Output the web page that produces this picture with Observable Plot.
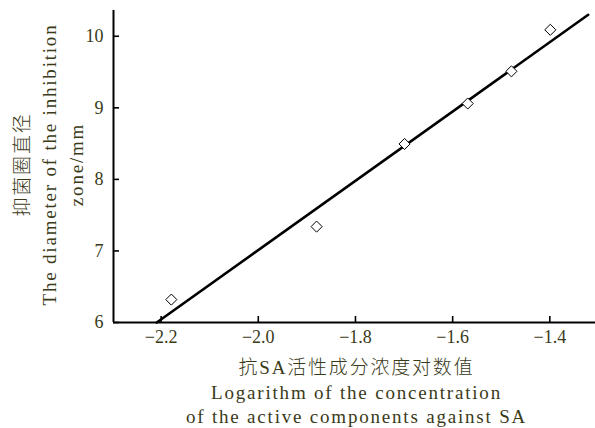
<!DOCTYPE html>
<html>
<head>
<meta charset="utf-8">
<script src="https://cdn.jsdelivr.net/npm/d3@7"></script>
<script src="https://cdn.jsdelivr.net/npm/@observablehq/plot@0.6"></script>
<style>
  html, body { margin: 0; padding: 0; background: #fff; }
</style>
</head>
<body>
<div id="chart"></div>
<script>
// ---- data ----
const logConc  = [-2.179, -1.880, -1.699, -1.569, -1.479, -1.399];
const diameter = [6.32, 7.34, 8.495, 9.06, 9.51, 10.09];
const fitX = [-2.209, -1.321];
const fitY = [6.0, 10.30];
const xTicks = [-2.2, -2.0, -1.8, -1.6, -1.4];
const yTicks = [6, 7, 8, 9, 10];
const xLabel = "抗SA活性成分浓度对数值\nLogarithm of the concentration\nof the active components against SA";
const yLabel = "抑菌圈直径\nThe diameter of the inhibition\nzone/mm";

const points = logConc.map((x, i) => ({x, y: diameter[i]}));
const fit = fitX.map((x, i) => ({x, y: fitY[i]}));

const W = 595, H = 428;
const mL = 113, mR = 0, mT = 10, mB = 106;
const frameW = W - mL - mR, frameH = H - mT - mB;
const textColor = "#3a3a18";
const tickLen = 6;

const plot = Plot.plot({
  width: W,
  height: H,
  marginLeft: mL,
  marginRight: mR,
  marginTop: mT,
  marginBottom: mB,
  style: {
    fontFamily: "'Liberation Serif', 'Noto Sans CJK SC', serif",
    fontSize: "18px",
    color: textColor,
    background: "white"
  },
  x: {domain: [-2.298, -1.306]},
  y: {domain: [6, 10.36]},
  marks: [
    Plot.axisX({ticks: xTicks, tickSize: 0, tickPadding: 8, tickFormat: ".1f", label: null}),
    Plot.axisY({ticks: yTicks, tickSize: 0, tickPadding: 10, tickFormat: "d", label: null}),
    Plot.tickX(xTicks, {x: d => d, insetTop: frameH - tickLen, stroke: "black", strokeWidth: 1.6}),
    Plot.tickY(yTicks, {y: d => d, insetRight: frameW - tickLen, stroke: "black", strokeWidth: 1.6}),
    Plot.ruleY([6], {stroke: "black", strokeWidth: 2}),
    Plot.ruleX([-2.298], {stroke: "black", strokeWidth: 2}),
    Plot.line(fit, {x: "x", y: "y", stroke: "black", strokeWidth: 2.6}),
    Plot.dot(points, {x: "x", y: "y", symbol: "diamond2", r: 5, fill: "white", stroke: "black", strokeWidth: 1}),
    Plot.text([xLabel], {
      frameAnchor: "bottom", textAnchor: "middle", lineAnchor: "top",
      dy: 34, dx: 2, lineHeight: 1.3, fill: textColor, fontSize: 19
    }),
    Plot.text([yLabel], {
      frameAnchor: "left", textAnchor: "middle", lineAnchor: "middle",
      rotate: -90, dx: -66, dy: -2, lineHeight: 1.42, fill: textColor, fontSize: 19
    })
  ]
});

d3.select(plot).selectAll("g[aria-label='text'] text").style("letter-spacing", "1.8px");
d3.select(plot).selectAll("g[aria-label='text'] text tspan:first-child").style("font-weight", "300");
document.getElementById("chart").appendChild(plot);
</script>
</body>
</html>
